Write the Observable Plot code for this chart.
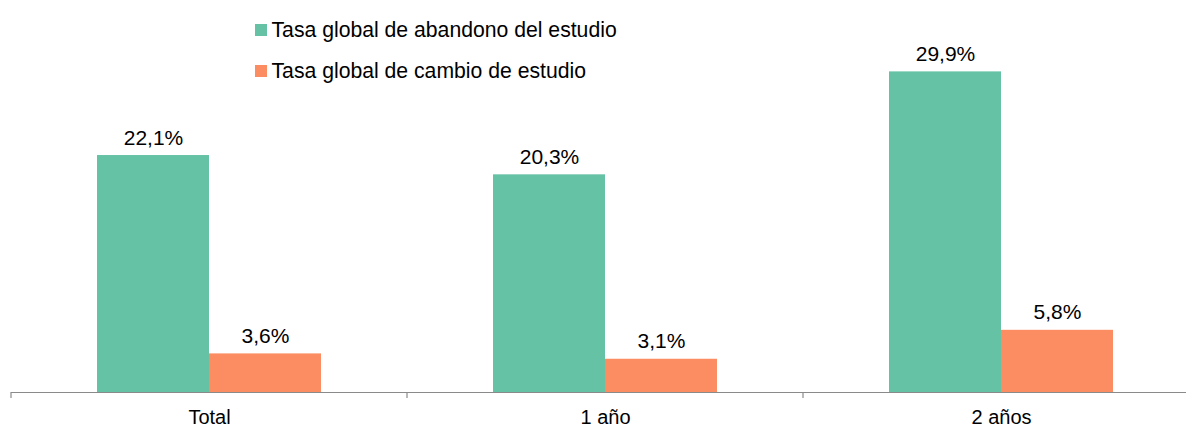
<!DOCTYPE html>
<html>
<head>
<meta charset="utf-8">
<script src="https://cdn.jsdelivr.net/npm/d3@7"></script>
<script src="https://cdn.jsdelivr.net/npm/@observablehq/plot@0.6"></script>
<style>
  html, body { margin: 0; padding: 0; background: #fff; overflow: hidden; }
  #wrap { position: relative; width: 1186px; height: 428px; overflow: hidden; font-family: "Liberation Sans", Arial, sans-serif; }
  #legend { position: absolute; left: 255px; top: 9.5px; font-size: 21.2px; color: #000; }
  .row { display: flex; align-items: center; height: 41px; white-space: nowrap; }
  .sw { width: 12px; height: 12px; margin-right: 4.5px; }
</style>
</head>
<body>
<div id="wrap"><div id="legend"></div></div>
<script>
const groups = ["Total", "1 año", "2 años"];
const seriesNames = ["Tasa global de abandono del estudio", "Tasa global de cambio de estudio"];
const abandono = [22.1, 20.3, 29.9];
const cambio = [3.6, 3.1, 5.8];
const colors = ["#66C2A5", "#FC8D62"];

const data = [];
groups.forEach((g, i) => {
  data.push({group: g, series: seriesNames[0], value: abandono[i]});
  data.push({group: g, series: seriesNames[1], value: cambio[i]});
});

const fmt = v => v.toFixed(1).replace(".", ",") + "%";

const plot = Plot.plot({
  width: 1199,
  height: 428,
  marginLeft: 11,
  marginRight: 0,
  marginTop: 16.7,
  marginBottom: 36,
  style: {fontFamily: "Liberation Sans, Arial, sans-serif", fontSize: "21px", maxWidth: "none", color: "#000"},
  fx: {domain: groups, padding: 0, label: null},
  x: {domain: seriesNames, paddingInner: 0, paddingOuter: 0.758, axis: null},
  y: {domain: [0, 35], axis: null},
  color: {domain: seriesNames, range: colors},
  marks: [
    Plot.barY(data, {fx: "group", x: "series", y: "value", fill: "series"}),
    Plot.ruleY([0], {stroke: "#8a8a8a", strokeWidth: 1.2}),
    Plot.text(data, {fx: "group", x: "series", y: "value", text: d => fmt(d.value), lineAnchor: "bottom", dy: -11, fill: "#000", fontSize: 21}),
    Plot.axisFx({anchor: "bottom", tickSize: 0, tickPadding: 17, fontSize: 20, label: null})
  ]
});

document.getElementById("wrap").appendChild(plot);

// boundary ticks between groups, positioned through the fx and y scales
const fx = plot.scale("fx");
const ys = plot.scale("y");
const y0 = ys.apply(0);
const bounds = groups.map(g => fx.apply(g)).concat([fx.apply(groups[groups.length - 1]) + fx.bandwidth]);
const svg = d3.select(plot);
svg.append("g").selectAll("line").data(bounds).join("line")
  .attr("x1", d => d).attr("x2", d => d)
  .attr("y1", y0).attr("y2", y0 + 6)
  .attr("stroke", "#8a8a8a").attr("stroke-width", 1.2);

// legend
const legend = d3.select("#legend");
seriesNames.forEach((s, i) => {
  const row = legend.append("div").attr("class", "row");
  row.append("div").attr("class", "sw").style("background", colors[i]);
  row.append("span").text(s);
});
</script>
</body>
</html>
